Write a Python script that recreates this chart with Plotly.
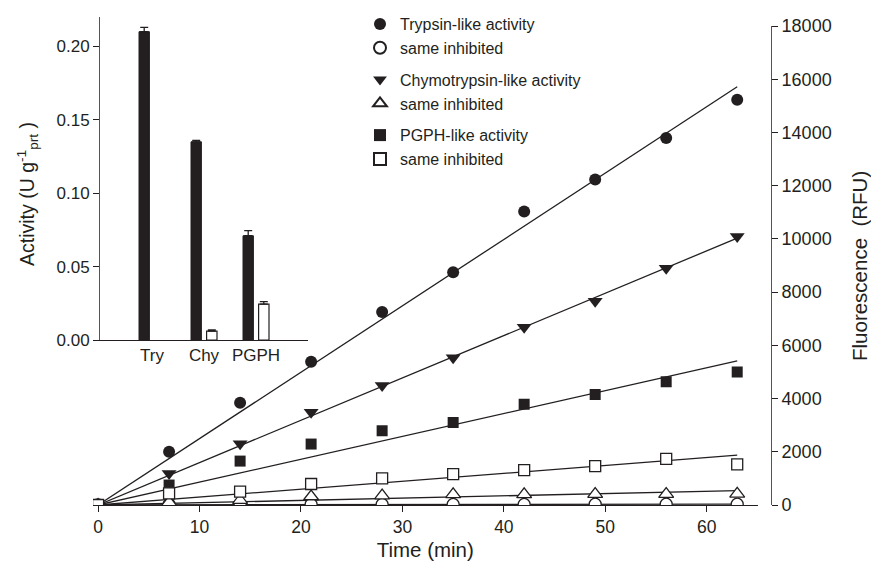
import numpy as np
import plotly.graph_objects as go

# ---------------- data ----------------
time_min = [0, 7, 14, 21, 28, 35, 42, 49, 56, 63]
trypsin = [0, 2000, 3840, 5380, 7250, 8750, 11030, 12230, 13790, 15230]
trypsin_inh = [0, 20, 20, 20, 20, 20, 20, 30, 30, 30]
chymo = [0, 1180, 2300, 3490, 4490, 5530, 6680, 7660, 8900, 10090]
chymo_inh = [0, 100, 180, 320, 350, 400, 400, 410, 410, 420]
pgph = [0, 750, 1650, 2290, 2790, 3100, 3790, 4150, 4630, 5000]
pgph_inh = [0, 440, 500, 790, 1000, 1160, 1310, 1460, 1730, 1530]

bar_categories = ["Try", "Chy", "PGPH"]
bar_active = [0.210, 0.135, 0.071]
bar_active_err = [0.003, 0.001, 0.0035]
bar_inhibited = [None, 0.006, 0.0245]
bar_inhibited_err = [0, 0.0008, 0.0016]

x_ticks = [0, 10, 20, 30, 40, 50, 60]
y_ticks = [0, 2000, 4000, 6000, 8000, 10000, 12000, 14000, 16000, 18000]
inset_ticks = [0.00, 0.05, 0.10, 0.15, 0.20]

# ---------------- style ----------------
INK = "#231f20"
FONT = "Liberation Sans, Arial, sans-serif"
W, H = 871, 570
ML, MR, MT, MB = 93, 100, 4, 65
PW, PH = W - ML - MR, H - MT - MB


def px_x(p):
    return (p - ML) / PW


def px_y(p):
    return (H - MB - p) / PH


fig = go.Figure()

# fitted lines (regression through origin, computed from the data)
t = np.array(time_min, dtype=float)
for series in [trypsin, trypsin_inh, chymo, chymo_inh, pgph, pgph_inh]:
    s = np.array(series, dtype=float)
    slope = float((t * s).sum() / (t * t).sum())
    fig.add_trace(go.Scatter(
        x=[t[0], t[-1]], y=[slope * t[0], slope * t[-1]], mode="lines",
        line=dict(color=INK, width=1.3), showlegend=False, hoverinfo="skip",
        xaxis="x", yaxis="y"))

series_specs = [
    ("Trypsin-like activity", trypsin, "circle", True, "g1"),
    ("same inhibited", trypsin_inh, "circle-open", False, "g1"),
    ("Chymotrypsin-like activity", chymo, "triangle-down", True, "g2"),
    ("same inhibited", chymo_inh, "triangle-up-open", False, "g2"),
    ("PGPH-like activity", pgph, "square", True, "g3"),
    ("same inhibited", pgph_inh, "square-open", False, "g3"),
]
for name, vals, sym, filled, grp in series_specs:
    base = sym.replace("-open", "")
    size = 11 if base == "square" else (13 if "triangle" in base else 12)
    fig.add_trace(go.Scatter(
        x=time_min, y=vals, mode="markers", name=name, legendgroup=grp,
        marker=dict(symbol=base, size=size,
                    color=INK if filled else "white",
                    line=dict(color=INK, width=0 if filled else 1.3)),
        xaxis="x", yaxis="y"))

# inset bar chart
fig.add_trace(go.Bar(
    x=bar_categories, y=bar_active, offset=-0.25, width=0.2,
    marker=dict(color=INK, line=dict(color=INK, width=1)),
    error_y=dict(type="data", array=bar_active_err, arrayminus=[0] * 3,
                 symmetric=False, color=INK, thickness=1.3, width=4),
    showlegend=False, xaxis="x2", yaxis="y2"))
fig.add_trace(go.Bar(
    x=bar_categories, y=bar_inhibited, offset=0.05, width=0.2,
    marker=dict(color="white", line=dict(color=INK, width=1.2)),
    error_y=dict(type="data", array=bar_inhibited_err, arrayminus=[0] * 3,
                 symmetric=False, color=INK, thickness=1.3, width=4),
    showlegend=False, xaxis="x2", yaxis="y2"))


def tf(size):
    return dict(family=FONT, size=size, color=INK)


fig.update_layout(
    width=W, height=H,
    margin=dict(l=ML, r=MR, t=MT, b=MB, pad=0, autoexpand=False),
    paper_bgcolor="white", plot_bgcolor="white",
    font=dict(family=FONT, color=INK),
    barmode="overlay",
    showlegend=True,
    legend=dict(x=px_x(360), y=px_y(7), xanchor="left", yanchor="top",
                font=tf(16), bgcolor="rgba(0,0,0,0)", tracegroupgap=8,
                itemsizing="constant"),
    xaxis=dict(domain=[0, px_x(757.5)], range=[-0.5, 65], tickvals=x_ticks,
               showgrid=False, zeroline=False, showline=True, linecolor=INK,
               linewidth=1, ticks="outside", ticklen=6, tickcolor=INK,
               tickfont=tf(17.5), anchor="y", automargin=False,
               title=dict(text="Time (min)", standoff=6, font=tf(20.5))),
    yaxis=dict(domain=[0, px_y(26)], range=[0, 18000], tickvals=y_ticks,
               tickformat="d", automargin=False,
               side="right", anchor="free", position=1,
               showgrid=False, zeroline=False, showline=True, linecolor="#555",
               linewidth=1, ticks="outside", ticklen=6, tickcolor=INK,
               tickfont=tf(18)),
    xaxis2=dict(domain=[px_x(100), px_x(308)], range=[-1, 3], type="category",
                anchor="y2", showgrid=False, zeroline=False, showline=True,
                linecolor=INK, linewidth=1, ticks="", tickfont=tf(17),
                automargin=False),
    yaxis2=dict(domain=[px_y(340), px_y(17)], range=[0, 0.22],
                tickvals=inset_ticks, tickformat=".2f", anchor="x2",
                showgrid=False, zeroline=False, showline=True,
                linecolor="#555", linewidth=1, ticks="outside", ticklen=6,
                tickcolor=INK, tickfont=tf(17), automargin=False),
    annotations=[
        dict(text="Fluorescence\u00a0 (RFU)", x=px_x(859), y=px_y(266),
             xref="paper", yref="paper", textangle=-90, showarrow=False,
             xanchor="center", yanchor="middle", font=tf(20.5)),
        dict(text="Activity (U g<sup>-1</sup><sub>prt</sub> )", x=px_x(27),
             y=px_y(194), xref="paper", yref="paper", textangle=-90,
             showarrow=False, xanchor="center", yanchor="middle",
             font=tf(19.5)),
    ],
)

fig.write_html("out.html", config={"displayModeBar": False},
               post_script="document.body.style.margin='0';"
                           "document.body.style.padding='0';")
